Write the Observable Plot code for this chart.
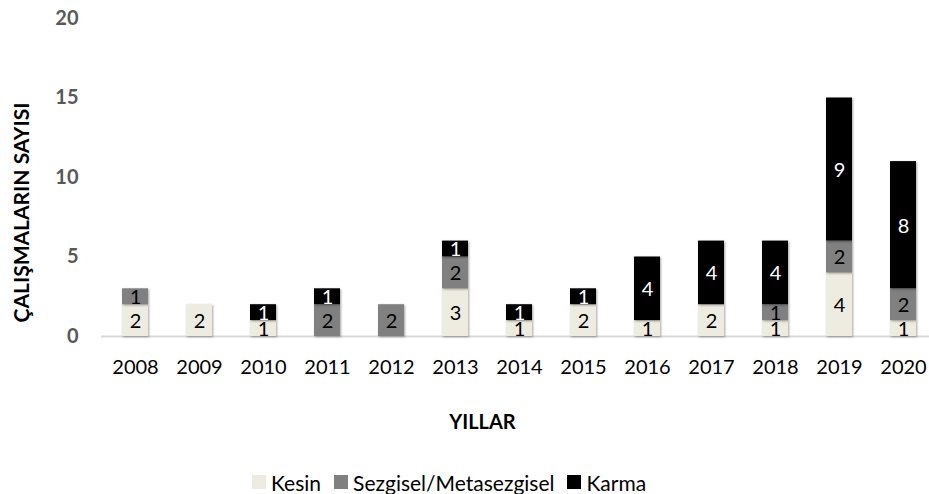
<!DOCTYPE html>
<html>
<head>
<meta charset="utf-8">
<script src="https://cdn.jsdelivr.net/npm/d3@7"></script>
<script src="https://cdn.jsdelivr.net/npm/@observablehq/plot@0.6"></script>
<style>
  html, body { margin: 0; padding: 0; background: #fff; }
  #wrap { position: relative; width: 929px; height: 494px; overflow: hidden; font-family: Lato, "Open Sans", sans-serif; }
  #wrap svg { position: absolute; left: 0; top: 0; overflow: visible; }
  #wrap svg g[aria-label="bar"] rect { filter: drop-shadow(1px 1px 1.2px rgba(0,0,0,0.35)); }
  #legend { position: absolute; left: 252px; top: 471px; height: 22px; display: flex; align-items: center; font-size: 21px; color: #000; white-space: nowrap; }
  #legend .item { display: flex; align-items: center; margin-right: 13px; }
  #legend .sw { width: 14px; height: 14px; margin-right: 5px; }
</style>
</head>
<body>
<div id="wrap"></div>
<script>
const years = ["2008","2009","2010","2011","2012","2013","2014","2015","2016","2017","2018","2019","2020"];
const series = ["Kesin", "Sezgisel/Metasezgisel", "Karma"];
const kesin    = [2, 2, 1, 0, 0, 3, 1, 2, 1, 2, 1, 4, 1];
const sezgisel = [1, 0, 0, 2, 2, 2, 0, 0, 0, 0, 1, 2, 2];
const karma    = [0, 0, 1, 1, 0, 1, 1, 1, 4, 4, 4, 9, 8];
const yTicks = [0, 5, 10, 15, 20];
const colors = ["#EEECE1", "#808080", "#000000"];
const labelColors = ["#000000", "#000000", "#FFFFFF"];

const valuesBySeries = [kesin, sezgisel, karma];
const data = [];
years.forEach((y, i) => {
  series.forEach((s, j) => {
    data.push({year: y, series: s, value: valuesBySeries[j][i], lc: labelColors[j]});
  });
});

const chart = Plot.plot({
  width: 929,
  height: 462,
  marginLeft: 101,
  marginRight: 0,
  marginTop: 18,
  marginBottom: 126,
  style: {fontFamily: "Lato, 'Open Sans', sans-serif", background: "transparent"},
  x: {domain: years, range: [101, 936], paddingInner: 0.6, paddingOuter: 0.3},
  y: {domain: [0, 20], ticks: yTicks},
  color: {domain: series, range: colors},
  marks: [
    Plot.ruleY([0], {stroke: "#d9d9d9", strokeWidth: 2}),
    Plot.barY(data, {x: "year", y: "value", fill: "series", order: series}),
    Plot.text(data.filter(d => d.value > 0), Plot.stackY({
      x: "year", y: "value", order: series, z: "series",
      text: d => String(d.value), fill: "lc", fontSize: 20, dy: 1
    })),
    Plot.axisY({ticks: yTicks, tickSize: 0, tickPadding: 23, fontSize: 20, fontWeight: "bold", color: "#595959", label: null}),
    Plot.axisX({tickSize: 0, tickPadding: 23, fontSize: 20, color: "#000", label: null}),
    Plot.text(["ÇALIŞMALARIN SAYISI"], {frameAnchor: "left", textAnchor: "middle", dx: -79, dy: 35, rotate: -90, fontSize: 21, fontWeight: "bold", fill: "#000", text: d => d}),
    Plot.text(["YILLAR"], {frameAnchor: "bottom", textAnchor: "middle", dx: -33, dy: 92, fontSize: 20, fontWeight: "bold", fill: "#000", text: d => d})
  ]
});

const wrap = document.getElementById("wrap");
wrap.appendChild(chart);

const legend = document.createElement("div");
legend.id = "legend";
series.forEach((s, j) => {
  const item = document.createElement("div");
  item.className = "item";
  const sw = document.createElement("span");
  sw.className = "sw";
  sw.style.background = colors[j];
  const t = document.createElement("span");
  t.textContent = s;
  item.appendChild(sw);
  item.appendChild(t);
  legend.appendChild(item);
});
wrap.appendChild(legend);
</script>
</body>
</html>
